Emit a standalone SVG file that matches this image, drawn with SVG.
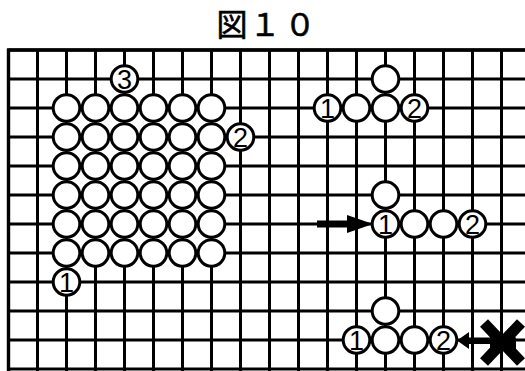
<svg xmlns="http://www.w3.org/2000/svg" width="525" height="371" viewBox="0 0 525 371">
<style>
.g{stroke:#000;stroke-width:3;fill:none}
.s{fill:#fff;stroke:#000;stroke-width:3}
.n{font-family:"Liberation Sans",Arial,sans-serif;font-size:27px;text-anchor:middle;fill:#000}
.t{font-family:"Noto Sans CJK JP","Noto Sans",sans-serif;font-size:31px;text-anchor:middle;fill:#000;stroke:#000;stroke-width:0.6}
</style>
<rect width="525" height="371" fill="#fff"/>
<text class="t" x="232 265 300" y="36">図１０</text>
<g id="grid" class="g">
<path d="M8.5,50H525M8.5,79H525M8.5,108H525M8.5,137H525M8.5,166H525M8.5,195H525M8.5,224H525M8.5,253H525M8.5,282H525M8.5,311H525M8.5,340H525M8.5,369H525"/>
<path d="M8.5,50V371M37.5,50V371M66.5,50V371M95.5,50V371M124.5,50V371M153.5,50V371M182.5,50V371M211.5,50V371M240.5,50V371M269.5,50V371M298.5,50V371M327.5,50V371M356.5,50V371M385.5,50V371M414.5,50V371M443.5,50V371M472.5,50V371M501.5,50V371"/>
<path d="M8.5,48.5V371M7,50H525" stroke-width="3.4"/>
</g>
<g id="connectors">
<path d="M317,220.5H347V215L373,224L347,233V227.5H317Z" fill="#000"/>
<path d="M457,340.5L469,332V337.5H492V344H469V349Z" fill="#000"/>
</g>
<g id="x-mark" stroke="#000" stroke-width="11" fill="none">
<path d="M484,323L521,362M521,323L484,362M490,343H516"/>
</g>
<g id="block">
<circle class="s" cx="66.5" cy="108" r="13.3"/><circle class="s" cx="95.5" cy="108" r="13.3"/><circle class="s" cx="124.5" cy="108" r="13.3"/><circle class="s" cx="153.5" cy="108" r="13.3"/><circle class="s" cx="182.5" cy="108" r="13.3"/><circle class="s" cx="211.5" cy="108" r="13.3"/>
<circle class="s" cx="66.5" cy="137" r="13.3"/><circle class="s" cx="95.5" cy="137" r="13.3"/><circle class="s" cx="124.5" cy="137" r="13.3"/><circle class="s" cx="153.5" cy="137" r="13.3"/><circle class="s" cx="182.5" cy="137" r="13.3"/><circle class="s" cx="211.5" cy="137" r="13.3"/>
<circle class="s" cx="66.5" cy="166" r="13.3"/><circle class="s" cx="95.5" cy="166" r="13.3"/><circle class="s" cx="124.5" cy="166" r="13.3"/><circle class="s" cx="153.5" cy="166" r="13.3"/><circle class="s" cx="182.5" cy="166" r="13.3"/><circle class="s" cx="211.5" cy="166" r="13.3"/>
<circle class="s" cx="66.5" cy="195" r="13.3"/><circle class="s" cx="95.5" cy="195" r="13.3"/><circle class="s" cx="124.5" cy="195" r="13.3"/><circle class="s" cx="153.5" cy="195" r="13.3"/><circle class="s" cx="182.5" cy="195" r="13.3"/><circle class="s" cx="211.5" cy="195" r="13.3"/>
<circle class="s" cx="66.5" cy="224" r="13.3"/><circle class="s" cx="95.5" cy="224" r="13.3"/><circle class="s" cx="124.5" cy="224" r="13.3"/><circle class="s" cx="153.5" cy="224" r="13.3"/><circle class="s" cx="182.5" cy="224" r="13.3"/><circle class="s" cx="211.5" cy="224" r="13.3"/>
<circle class="s" cx="66.5" cy="253" r="13.3"/><circle class="s" cx="95.5" cy="253" r="13.3"/><circle class="s" cx="124.5" cy="253" r="13.3"/><circle class="s" cx="153.5" cy="253" r="13.3"/><circle class="s" cx="182.5" cy="253" r="13.3"/><circle class="s" cx="211.5" cy="253" r="13.3"/>
</g>
<g id="a3"><circle class="s" cx="124.5" cy="79" r="13.3"/><text class="n" x="124.5" y="88.5">3</text></g>
<g id="a2"><circle class="s" cx="240.5" cy="137" r="13.3"/><text class="n" x="240.5" y="146.5">2</text></g>
<g id="a1"><circle class="s" cx="66.5" cy="282" r="13.3"/><text class="n" x="66.5" y="291.5">1</text></g>
<g id="top-group">
<circle class="s" cx="385.5" cy="79" r="13.3"/>
<circle class="s" cx="356.5" cy="108" r="13.3"/><circle class="s" cx="385.5" cy="108" r="13.3"/>
</g>
<g id="b1"><circle class="s" cx="327.5" cy="108" r="13.3"/><text class="n" x="327.5" y="117.5">1</text></g>
<g id="b2"><circle class="s" cx="414.5" cy="108" r="13.3"/><text class="n" x="414.5" y="117.5">2</text></g>
<g id="mid-group">
<circle class="s" cx="385.5" cy="195" r="13.3"/>
<circle class="s" cx="414.5" cy="224" r="13.3"/><circle class="s" cx="443.5" cy="224" r="13.3"/>
</g>
<g id="c1"><circle class="s" cx="385.5" cy="224" r="13.3"/><text class="n" x="385.5" y="233.5">1</text></g>
<g id="c2"><circle class="s" cx="472.5" cy="224" r="13.3"/><text class="n" x="472.5" y="233.5">2</text></g>
<g id="low-group">
<circle class="s" cx="385.5" cy="311" r="13.3"/>
<circle class="s" cx="385.5" cy="340" r="13.3"/><circle class="s" cx="414.5" cy="340" r="13.3"/>
</g>
<g id="d1"><circle class="s" cx="356.5" cy="340" r="13.3"/><text class="n" x="356.5" y="349.5">1</text></g>
<g id="d2"><circle class="s" cx="443.5" cy="340" r="13.3"/><text class="n" x="443.5" y="349.5">2</text></g>
</svg>
